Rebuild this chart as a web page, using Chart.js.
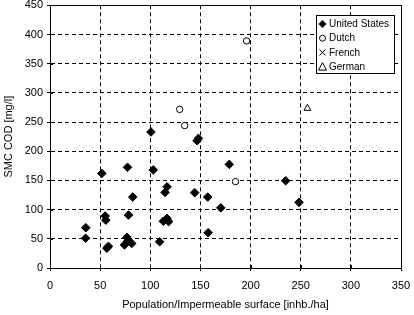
<!DOCTYPE html>
<html><head><meta charset="utf-8">
<script src="https://cdn.jsdelivr.net/npm/chart.js@4"></script>
<style>html,body{margin:0;padding:0;background:#fff}#wrap{width:414px;height:315px}</style>
</head><body><div id="wrap"><canvas id="c" width="414" height="315"></canvas></div>
<script>
const seriesLabels = ['United States', 'Dutch', 'French', 'German'];
const usPopulation = [35.7, 35.5, 51.7, 55, 55.7, 56.7, 58.3, 74.3, 76.7, 78, 81.5, 77.3, 78.3, 82.5, 100.7, 103, 109.3, 113, 116.7, 118.3, 114.7, 116.7, 144.3, 146.7, 148, 157.3, 157.7, 170.3, 178.8, 235, 248.3];
const usCod        = [69, 51, 162, 89, 82, 34, 37, 39.5, 52.5, 47, 42, 172.5, 90.7, 121.5, 233, 168, 45, 80, 85, 79.5, 129.5, 139, 129, 218, 222, 121.5, 60.5, 103, 177.5, 149.5, 112.5];
const dutchPopulation = [129.3, 134.3, 185, 196];
const dutchCod        = [271.7, 244, 148, 389];
const frenchPopulation = [];
const frenchCod        = [];
const germanPopulation = [256.7];
const germanCod        = [273.5];
const xTickValues = [0, 50, 100, 150, 200, 250, 300, 350];
const yTickValues = [0, 50, 100, 150, 200, 250, 300, 350, 400, 450];
const xTitle = 'Population/Impermeable surface [inhb./ha]';
const yTitle = 'SMC COD [mg/l]';

const pts = (xs, ys) => xs.map((x, i) => ({x: x, y: ys[i]}));
const FONT = '"Liberation Sans", Arial, sans-serif';

const frameLegend = {
  id: 'frameLegend',
  afterDraw(chart) {
    const ctx = chart.ctx, a = chart.chartArea;
    ctx.save();
    ctx.strokeStyle = '#000';
    ctx.lineWidth = 1;
    ctx.setLineDash([]);
    ctx.strokeRect(Math.round(a.left) + 0.5, Math.round(a.top) + 0.5, Math.round(a.right - a.left), Math.round(a.bottom - a.top));
    const xs = chart.scales.x, ys = chart.scales.y;
    ctx.beginPath();
    xTickValues.forEach(v => { const px = Math.round(xs.getPixelForValue(v)) + 0.5; ctx.moveTo(px, a.bottom); ctx.lineTo(px, a.bottom - 3); });
    yTickValues.forEach(v => { const py = Math.round(ys.getPixelForValue(v)) + 0.5; ctx.moveTo(a.left, py); ctx.lineTo(a.left + 3, py); });
    ctx.stroke();
    const bx = 316.5, by = 15.5, bw = 78, bh = 58;
    ctx.fillStyle = '#fff';
    ctx.fillRect(bx, by, bw, bh);
    ctx.strokeRect(bx, by, bw, bh);
    ctx.font = '10px ' + FONT;
    ctx.textBaseline = 'middle';
    ctx.textAlign = 'left';
    chart.data.datasets.forEach((ds, i) => {
      const cy = 24 + i * 14.2, cx = 322.5;
      ctx.fillStyle = '#000';
      ctx.strokeStyle = '#000';
      ctx.beginPath();
      if (ds.pointStyle === 'rectRot') {
        ctx.moveTo(cx, cy - 4); ctx.lineTo(cx + 4, cy); ctx.lineTo(cx, cy + 4); ctx.lineTo(cx - 4, cy); ctx.closePath(); ctx.fill();
      } else if (ds.pointStyle === 'circle') {
        ctx.arc(cx, cy, 3, 0, Math.PI * 2); ctx.stroke();
      } else if (ds.pointStyle === 'crossRot') {
        ctx.moveTo(cx - 3, cy - 3); ctx.lineTo(cx + 3, cy + 3); ctx.moveTo(cx + 3, cy - 3); ctx.lineTo(cx - 3, cy + 3); ctx.stroke();
      } else {
        ctx.moveTo(cx, cy - 4); ctx.lineTo(cx + 4, cy + 3.5); ctx.lineTo(cx - 4, cy + 3.5); ctx.closePath(); ctx.stroke();
      }
      ctx.fillText(ds.label, 329, cy + 0.5);
    });
    ctx.restore();
  }
};

new Chart(document.getElementById('c'), {
  type: 'scatter',
  data: {
    datasets: [
      {label: seriesLabels[0], data: pts(usPopulation, usCod), pointStyle: 'rectRot', radius: 4.3, backgroundColor: '#000', borderColor: '#000', borderWidth: 1},
      {label: seriesLabels[1], data: pts(dutchPopulation, dutchCod), pointStyle: 'circle', radius: 3.2, backgroundColor: '#fff', borderColor: '#000', borderWidth: 1},
      {label: seriesLabels[2], data: pts(frenchPopulation, frenchCod), pointStyle: 'crossRot', radius: 3.5, backgroundColor: '#000', borderColor: '#000', borderWidth: 1},
      {label: seriesLabels[3], data: pts(germanPopulation, germanCod), pointStyle: 'triangle', radius: 4, backgroundColor: '#fff', borderColor: '#000', borderWidth: 1}
    ]
  },
  options: {
    responsive: false,
    animation: false,
    devicePixelRatio: 1,
    layout: {padding: {top: 5, right: 13, left: 0, bottom: 0}},
    plugins: {legend: {display: false}, tooltip: {enabled: false}},
    scales: {
      x: {
        type: 'linear', min: 0, max: 350,
        afterBuildTicks: s => { s.ticks = xTickValues.map(v => ({value: v})); },
        afterFit: s => { s.height = 47; s.paddingLeft = 0; s.paddingRight = 0; },
        ticks: {color: '#000', font: {family: FONT, size: 11}, padding: 8, maxRotation: 0},
        grid: {color: '#000', lineWidth: 1, tickLength: 3, tickColor: '#000'},
        border: {display: true, color: '#000', width: 1, dash: [4, 3]},
        title: {display: true, text: xTitle, color: '#000', font: {family: FONT, size: 11}, padding: {top: 0, bottom: 3}}
      },
      y: {
        type: 'linear', min: 0, max: 450,
        afterBuildTicks: s => { s.ticks = yTickValues.map(v => ({value: v})); },
        afterFit: s => { s.width = 50; s.paddingTop = 0; s.paddingBottom = 0; },
        ticks: {color: '#000', font: {family: FONT, size: 11}, padding: 4},
        grid: {color: '#000', lineWidth: 1, tickLength: 3, tickColor: '#000'},
        border: {display: true, color: '#000', width: 1, dash: [4, 3]},
        title: {display: true, text: yTitle, color: '#000', font: {family: FONT, size: 11}, padding: {top: 2.5, bottom: 0}}
      }
    }
  },
  plugins: [frameLegend]
});
</script></body></html>
